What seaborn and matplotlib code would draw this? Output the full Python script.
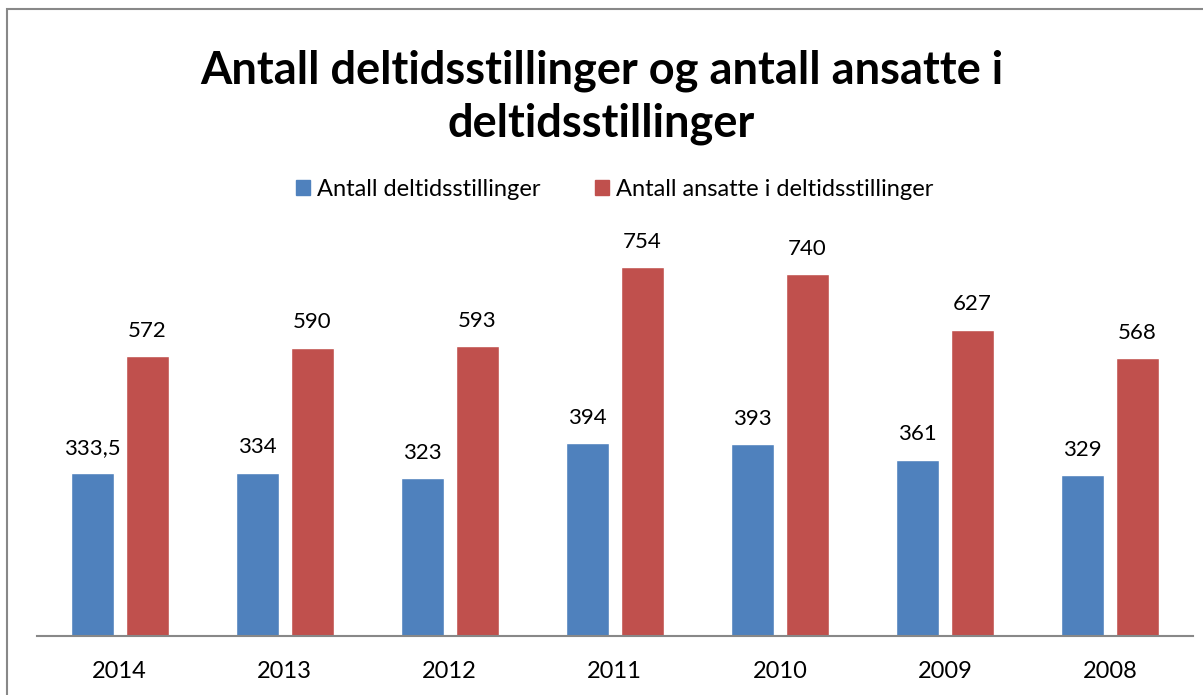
import matplotlib
matplotlib.use("Agg")
import matplotlib.pyplot as plt
import seaborn as sns
import pandas as pd

# Data
years = ["2014", "2013", "2012", "2011", "2010", "2009", "2008"]
stillinger = [333.5, 334, 323, 394, 393, 361, 329]
ansatte = [572, 590, 593, 754, 740, 627, 568]
series_names = ["Antall deltidsstillinger", "Antall ansatte i deltidsstillinger"]
colors = ["#4F81BD", "#C0504D"]

df = pd.DataFrame({
    "year": years * 2,
    "value": stillinger + ansatte,
    "series": [series_names[0]] * len(years) + [series_names[1]] * len(years),
})

sns.set_style("white")
plt.rcParams['font.family'] = ['Lato', 'DejaVu Sans']
plt.rcParams['text.color'] = 'black'
plt.rcParams['xtick.color'] = 'black'

fig = plt.figure(figsize=(12.03, 6.95), dpi=100)
ax = fig.add_axes([0.0308, 0.0849, 0.9605, 0.5626])

sns.barplot(
    data=df, x="year", y="value", hue="series",
    palette=colors, order=years, hue_order=series_names,
    width=0.667, gap=0.218, saturation=1, ax=ax, legend=False
)

# value labels
for cont in ax.containers:
    labels = [f"{v:g}".replace(".", ",") for v in cont.datavalues]
    ax.bar_label(cont, labels=labels, padding=11, fontsize=16, color="black")

ax.set_ylim(0, 800)
ax.set_xlim(-0.5, len(years) - 0.5)
ax.set_xlabel("")
ax.set_ylabel("")
ax.set_yticks([])
for s in ["top", "right", "left"]:
    ax.spines[s].set_visible(False)
ax.spines["bottom"].set_color("#888888")
ax.spines["bottom"].set_linewidth(1.5)
ax.tick_params(axis="x", length=0, labelsize=17, pad=18, labelcolor="black")

# title
fig.text(0.5, 0.86, "Antall deltidsstillinger og antall ansatte i\ndeltidsstillinger",
         ha="center", va="center", fontsize=32.5, fontweight="bold",
         linespacing=1.3, color="black")

# legend
handles = [plt.Rectangle((0, 0), 1, 1, color=c) for c in colors]
fig.legend(handles, series_names, loc="center", bbox_to_anchor=(0.511, 0.727),
           ncol=2, frameon=False, fontsize=17, handlelength=0.6, handleheight=0.6,
           handletextpad=0.3, columnspacing=2.3, labelcolor="black")

# chart border
fig.add_artist(plt.Rectangle((7 / 1203, -0.1), 1.2, (695 - 9) / 695 + 0.1,
                             transform=fig.transFigure, fill=False,
                             edgecolor="#888888", linewidth=1.5))

fig.savefig("out.png", dpi=100)
